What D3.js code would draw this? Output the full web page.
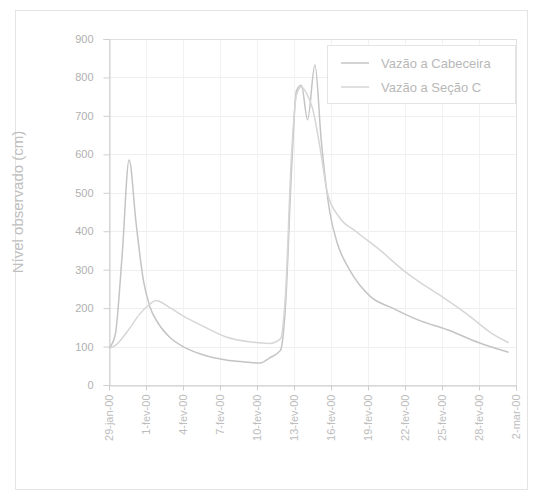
<!DOCTYPE html>
<html>
<head>
<meta charset="utf-8">
<script src="https://cdn.jsdelivr.net/npm/d3@7"></script>
<style>
  body { margin: 0; background: #fff; }
  text { font-family: "Liberation Sans", Arial, sans-serif; fill: #b4b4b4; }
</style>
</head>
<body>
<script>
// dados (dias desde 29-jan-00, nivel em cm)
var rotulosX = ["29-jan-00", "1-fev-00", "4-fev-00", "7-fev-00", "10-fev-00", "13-fev-00",
                "16-fev-00", "19-fev-00", "22-fev-00", "25-fev-00", "28-fev-00", "2-mar-00"];
var ticksY = [0, 100, 200, 300, 400, 500, 600, 700, 800, 900];
var nomes = ["Vazão a Cabeceira", "Vazão a Seção C"];

var tempo1 = [0, 0.5, 1.06, 1.63, 2.2, 2.8, 3.3, 4, 4.9, 6, 7.5, 9.5, 11, 12.2, 13, 13.9,
              14.3, 14.8, 15.2, 15.6, 16.1, 16.7, 17.2, 17.9, 18.5, 19.5, 21.2, 23, 25, 27.5, 30, 32.4];
var nivel1 = [95, 130, 335, 585, 420, 270, 205, 160, 125, 100, 80, 65, 60, 57, 70, 90,
              200, 560, 765, 780, 690, 833, 640, 450, 370, 300, 230, 200, 170, 143, 110, 85];

var tempo2 = [0, 0.6, 1.5, 2.5, 3.3, 3.8, 5, 6, 7.5, 9.5, 11.5, 13, 13.9, 14.3, 14.8, 15.2,
              15.6, 16.0, 16.5, 17.2, 17.7, 18.7, 20, 22, 24, 25.3, 27, 29, 31, 32.4];
var nivel2 = [95, 105, 140, 185, 210, 220, 200, 180, 155, 125, 112, 108, 120, 230, 600, 755,
              775, 760, 720, 600, 500, 435, 400, 350, 295, 265, 230, 185, 135, 110];

var svgWidth = 534, svgHeight = 496;
var margin = {top: 39, right: 18, bottom: 111, left: 109},
    width = 516 - margin.left,
    height = 385 - margin.top;

var svg = d3.select("body").append("svg")
    .attr("width", svgWidth).attr("height", svgHeight);

// moldura externa
svg.append("rect")
    .attr("x", 15.5).attr("y", 10.5).attr("width", 512).attr("height", 479)
    .attr("fill", "none").attr("stroke", "#e4e4e4");

var chartGroup = svg.append("g").attr("transform", `translate(${margin.left},${margin.top})`);

var xScale = d3.scaleLinear().domain([0, 33]).range([0, width]);
var yScale = d3.scaleLinear().domain([0, 900]).range([height, 0]);
var diasTick = rotulosX.map(function(d, i) { return i * 3; });

// grade
chartGroup.selectAll(".gy").data(ticksY).enter().append("line")
    .attr("x1", 0).attr("x2", width)
    .attr("y1", function(d) { return Math.round(yScale(d)) + 0.5; })
    .attr("y2", function(d) { return Math.round(yScale(d)) + 0.5; })
    .attr("stroke", "#eeeeee");
chartGroup.selectAll(".gx").data(diasTick).enter().append("line")
    .attr("y1", 0).attr("y2", height)
    .attr("x1", function(d) { return Math.round(xScale(d)) + 0.5; })
    .attr("x2", function(d) { return Math.round(xScale(d)) + 0.5; })
    .attr("stroke", "#f2f2f2");

// borda da area do grafico
chartGroup.append("rect")
    .attr("x", 0.5).attr("y", 0.5).attr("width", width).attr("height", height)
    .attr("fill", "none").attr("stroke", "#e0e0e0");

// eixos
var yAxis = d3.axisLeft(yScale).tickValues(ticksY).tickSize(6).tickPadding(10);
var gy = chartGroup.append("g").attr("transform", "translate(0.5,0)").call(yAxis);
gy.selectAll("path, line").attr("stroke", "#cfcfcf");
gy.selectAll("text").attr("font-size", 11).style("fill", "#b0b0b0");

var xAxis = d3.axisBottom(xScale).tickValues(diasTick)
    .tickFormat(function(d, i) { return rotulosX[i]; }).tickSize(5);
var gx = chartGroup.append("g").attr("transform", `translate(0,${height + 0.5})`).call(xAxis);
gx.selectAll("path, line").attr("stroke", "#cfcfcf");
gx.selectAll("text")
    .attr("font-size", 11).style("fill", "#bdbdbd")
    .attr("transform", "rotate(-90)")
    .attr("text-anchor", "end")
    .attr("dy", "0.35em")
    .attr("x", -9).attr("y", 0);

// titulo do eixo y
chartGroup.append("text")
    .attr("text-anchor", "middle")
    .attr("transform", "translate(-86," + (height / 2 - 10) + ")rotate(-90)")
    .attr("font-size", 15).style("fill", "#c0c0c0")
    .text("Nível observado (cm)");

// linhas
var linha = d3.line()
    .x(function(d) { return xScale(d[0]); })
    .y(function(d) { return yScale(d[1]); })
    .curve(d3.curveMonotoneX);

var series = [
  {nome: nomes[0], pts: d3.zip(tempo1, nivel1), cor: "#c4c4c4"},
  {nome: nomes[1], pts: d3.zip(tempo2, nivel2), cor: "#d6d6d6"}
];

chartGroup.selectAll(".serie").data(series).enter().append("path")
    .attr("d", function(d) { return linha(d.pts); })
    .attr("fill", "none")
    .attr("stroke", function(d) { return d.cor; })
    .attr("stroke-width", 1.5);

// legenda
var leg = chartGroup.append("g").attr("transform", "translate(218,6)");
leg.append("rect").attr("x", 0.5).attr("y", 0.5).attr("width", 188).attr("height", 58)
    .attr("fill", "#fff").attr("stroke", "#e4e4e4");
var item = leg.selectAll(".item").data(series).enter().append("g")
    .attr("transform", function(d, i) { return "translate(0," + (18 + i * 24) + ")"; });
item.append("line").attr("x1", 14).attr("x2", 42)
    .attr("stroke", function(d) { return d.cor; }).attr("stroke-width", 1.5);
item.append("text").attr("x", 54).attr("dy", "0.35em")
    .attr("font-size", 13).style("fill", "#b8b8b8")
    .text(function(d) { return d.nome; });
</script>
</body>
</html>
